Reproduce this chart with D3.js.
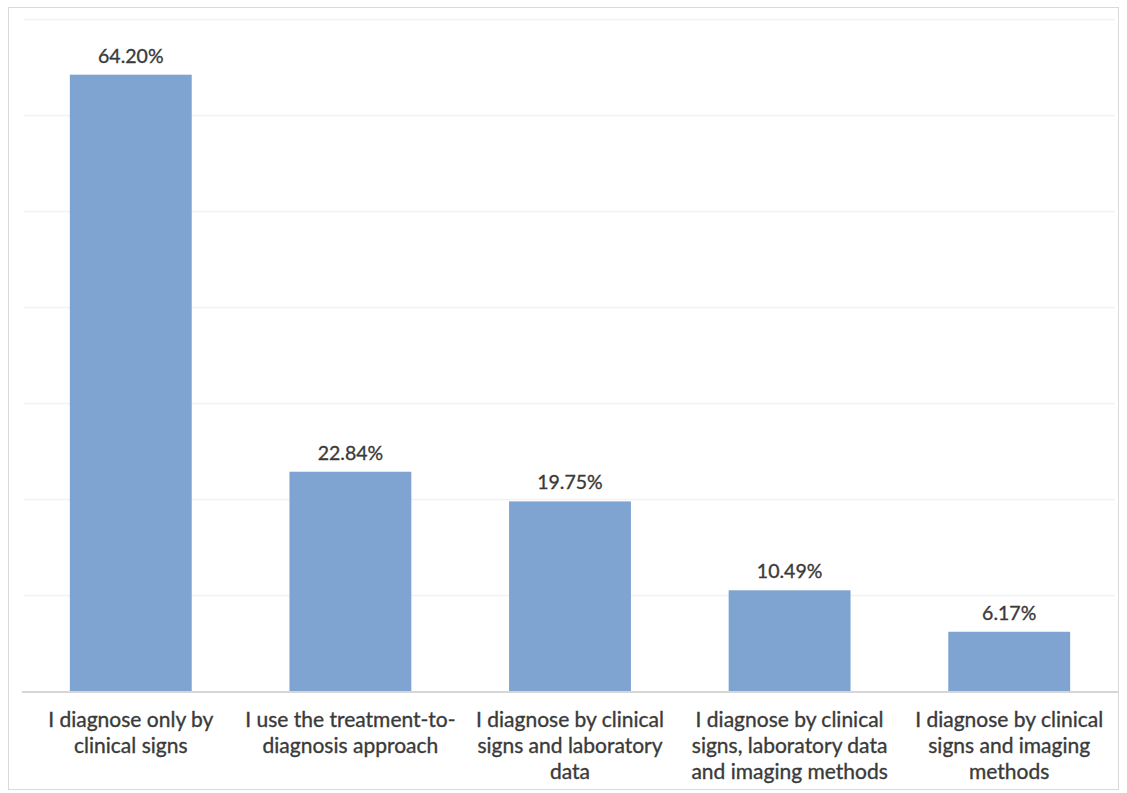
<!DOCTYPE html>
<html>
<head>
<meta charset="utf-8">
<script src="https://cdn.jsdelivr.net/npm/d3@7"></script>
<style>
  html, body { margin: 0; padding: 0; background: #fff; }
  svg { display: block; }
</style>
</head>
<body>
<svg id="chart" width="1127" height="793"></svg>
<script>
// Diagnostic approaches reported by respondents (% of answers)
const categories = [
  ["I diagnose only by", "clinical signs"],
  ["I use the treatment-to-", "diagnosis approach"],
  ["I diagnose by clinical", "signs and laboratory", "data"],
  ["I diagnose by clinical", "signs, laboratory data", "and imaging methods"],
  ["I diagnose by clinical", "signs and imaging", "methods"]
];
const values = [64.20, 22.84, 19.75, 10.49, 6.17];
const gridTicks = [0, 10, 20, 30, 40, 50, 60, 70];

const W = 1127, H = 793;
const margin = { left: 21, right: 8, top: 19, bottom: 102 };
const svg = d3.select("#chart");

// outer chart frame
svg.append("rect")
  .attr("x", 8.5).attr("y", 7.5)
  .attr("width", 1110).attr("height", 782)
  .attr("fill", "#fff").attr("stroke", "#d9d9d9").attr("stroke-width", 1);

const x = d3.scaleBand()
  .domain(d3.range(values.length))
  .range([margin.left, W - margin.right])
  .paddingInner(0.445)
  .paddingOuter(0.2225);

const y = d3.scaleLinear()
  .domain([0, 70])
  .range([H - margin.bottom, margin.top]);

// horizontal gridlines
svg.append("g")
  .selectAll("line")
  .data(gridTicks.slice(1))
  .join("line")
  .attr("x1", 24).attr("x2", 1115)
  .attr("y1", d => Math.round(y(d)) + 0.5)
  .attr("y2", d => Math.round(y(d)) + 0.5)
  .attr("stroke", "#f2f2f2").attr("stroke-width", 1.5);

// bars
svg.append("g")
  .selectAll("rect")
  .data(values)
  .join("rect")
  .attr("x", (d, i) => x(i))
  .attr("width", x.bandwidth())
  .attr("y", d => y(d))
  .attr("height", d => y(0) - y(d))
  .attr("fill", "#7fa4d1");

// category axis baseline
svg.append("line")
  .attr("x1", 22).attr("x2", 1118)
  .attr("y1", y(0) + 1).attr("y2", y(0) + 1)
  .attr("stroke", "#d6d6d6").attr("stroke-width", 2);

const textColor = "#3a3a3a";

// value labels
svg.append("g")
  .selectAll("text")
  .data(values)
  .join("text")
  .attr("x", (d, i) => x(i) + x.bandwidth() / 2)
  .attr("y", d => y(d) - 12)
  .attr("text-anchor", "middle")
  .attr("font-family", "Lato, 'Open Sans', sans-serif")
  .attr("font-size", 19.5)
  .attr("fill", textColor)
  .attr("stroke", textColor).attr("stroke-width", 0.35)
  .text(d => d.toFixed(2) + "%");

// category labels
const labels = svg.append("g")
  .selectAll("text")
  .data(categories)
  .join("text")
  .attr("x", (d, i) => x(i) + x.bandwidth() / 2)
  .attr("y", y(0) + 36)
  .attr("text-anchor", "middle")
  .attr("font-family", "Lato, 'Open Sans', sans-serif")
  .attr("font-size", 21)
  .attr("fill", textColor)
  .attr("stroke", textColor).attr("stroke-width", 0.35);

labels.selectAll("tspan")
  .data(d => d)
  .join("tspan")
  .attr("x", function () { return d3.select(this.parentNode).attr("x"); })
  .attr("dy", (d, j) => j === 0 ? 0 : 26)
  .text(d => d);
</script>
</body>
</html>
